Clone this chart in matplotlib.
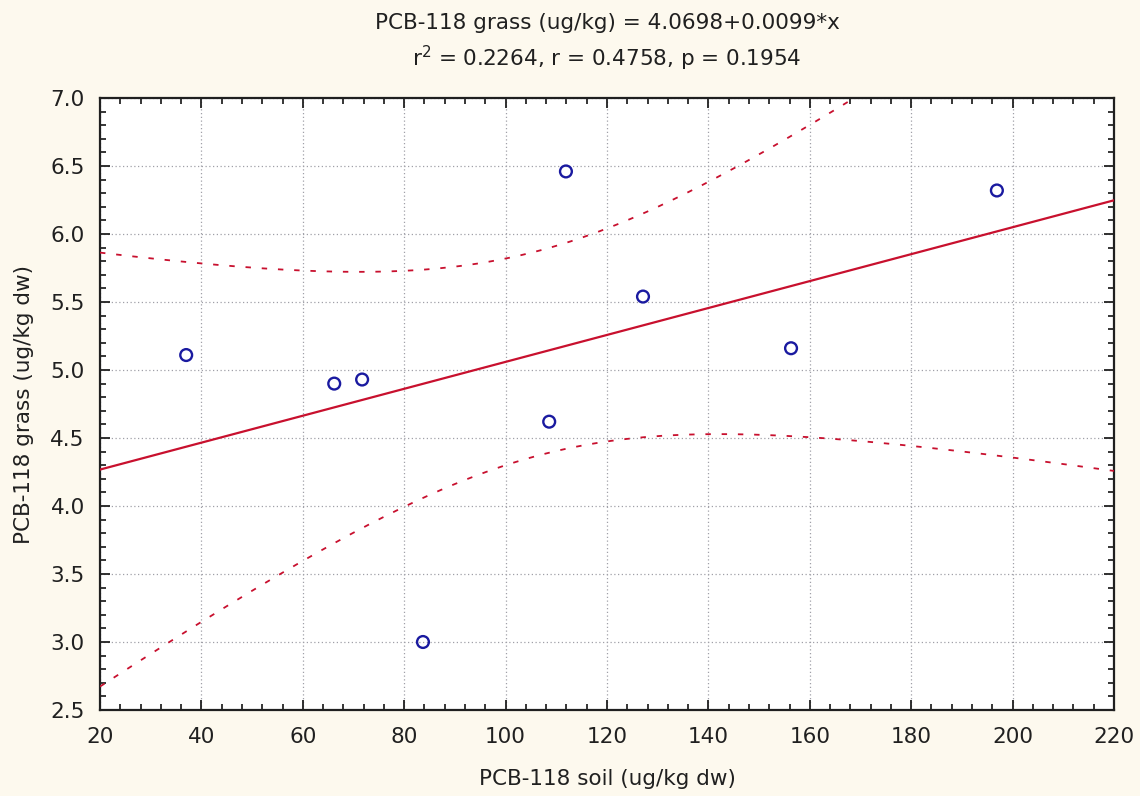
import matplotlib
matplotlib.use("Agg")
import matplotlib.pyplot as plt
import numpy as np
from matplotlib.ticker import MultipleLocator, FormatStrFormatter

# PCB-118 concentrations, soil vs grass
soil = [37.0, 66.2, 71.7, 83.7, 108.6, 111.9, 127.1, 156.3, 196.9]
grass = [5.11, 4.90, 4.93, 3.00, 4.62, 6.46, 5.54, 5.16, 6.32]

# fitted coefficients and summary statistics
intercept = 4.0698
slope = 0.0099
r2, r, p = 0.2264, 0.4758, 0.1954
t_crit = 2.3646  # t(0.975, df=7)

plt.rcParams["font.family"] = ["DejaVu Sans"]
fs = 15.5

x = np.asarray(soil)
y = np.asarray(grass)
n = x.size
resid = y - (intercept + slope * x)
s = np.sqrt(np.sum(resid ** 2) / (n - 2))
sxx = np.sum((x - x.mean()) ** 2)

xs = np.linspace(20, 220, 400)
fit = intercept + slope * xs
half = t_crit * s * np.sqrt(1.0 / n + (xs - x.mean()) ** 2 / sxx)

fig = plt.figure(figsize=(11.4, 7.96), dpi=100, facecolor="#fdf9ee")
ax = fig.add_axes([100 / 1140, 1 - 710 / 796, 1014 / 1140, 612 / 796])
ax.set_facecolor("white")

red = "#c8102e"
ax.plot(xs, fit, color=red, lw=1.6, zorder=3)
ax.plot(xs, fit + half, color=red, lw=1.3, ls=(0, (3, 6)), zorder=3)
ax.plot(xs, fit - half, color=red, lw=1.3, ls=(0, (3, 6)), zorder=3)
ax.scatter(x, y, s=72, facecolors="none", edgecolors="#1a1aa0", linewidths=1.7, zorder=4)

ax.set_xlim(20, 220)
ax.set_ylim(2.5, 7.0)
ax.xaxis.set_major_locator(MultipleLocator(20))
ax.xaxis.set_minor_locator(MultipleLocator(4))
ax.yaxis.set_major_locator(MultipleLocator(0.5))
ax.yaxis.set_minor_locator(MultipleLocator(0.1))
ax.yaxis.set_major_formatter(FormatStrFormatter("%.1f"))
ax.tick_params(which="both", direction="in", top=True, right=True, color="black")
ax.tick_params(which="major", length=7, width=1.3, labelsize=fs, colors="#202020")
ax.tick_params(axis="x", which="major", pad=12)
ax.tick_params(axis="y", which="major", pad=11)
ax.tick_params(which="minor", length=4, width=1.1)
ax.grid(True, which="major", color="#a0a0a8", ls=(0, (1, 2)), lw=0.9)
for sp in ax.spines.values():
    sp.set_linewidth(1.6)
    sp.set_color("#202020")

ax.set_xlabel("PCB-118 soil (ug/kg dw)", fontsize=fs, labelpad=16, color="#202020")
ax.set_ylabel("PCB-118 grass (ug/kg dw)", fontsize=fs, labelpad=12, color="#202020")
fig.text(607 / 1140, 1 - 23 / 796,
         f"PCB-118 grass (ug/kg) = {intercept:.4f}+{slope:.4f}*x",
         ha="center", va="center", fontsize=fs, color="#202020")
fig.text(607 / 1140, 1 - 58 / 796,
         f"r$^2$ = {r2:.4f}, r = {r:.4f}, p = {p:.4f}",
         ha="center", va="center", fontsize=fs, color="#202020")

fig.savefig("out.png", dpi=100, facecolor=fig.get_facecolor())
